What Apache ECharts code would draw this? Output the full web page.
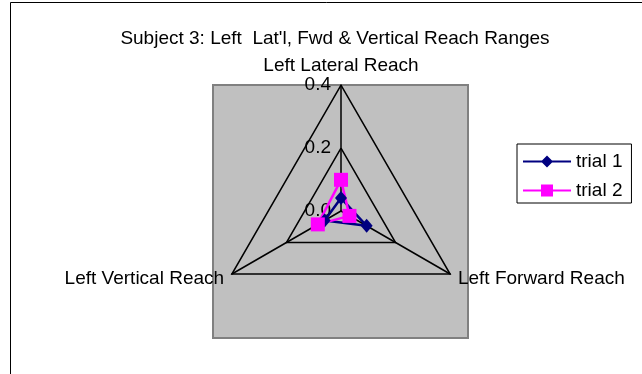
<!DOCTYPE html>
<html>
<head>
<meta charset="utf-8">
<script src="https://cdn.jsdelivr.net/npm/echarts@6/dist/echarts.min.js"></script>
<style>
  html, body { margin: 0; padding: 0; background: #fff; }
  #chart { width: 642px; height: 374px; }
</style>
</head>
<body>
<div id="chart"></div>
<script>
const titleText = "Subject 3: Left  Lat'l, Fwd & Vertical Reach Ranges"
// radar goes counter-clockwise, so Vertical comes before Forward here
const indicators = ['Left Lateral Reach', 'Left Vertical Reach', 'Left Forward Reach']
const axisMax = 0.4
const trial1 = [0.041, 0.06, 0.094]
const trial2 = [0.099, 0.085, 0.031]
const seriesNames = ['trial 1', 'trial 2']

const FONT = 'Liberation Sans, Arial, sans-serif'
const chart = echarts.init(document.getElementById('chart'))

chart.setOption({
  animation: false,
  title: {
    text: titleText,
    left: 330,
    top: 24,
    textAlign: 'center',
    textStyle: { fontFamily: FONT, fontSize: 19, fontWeight: 'normal', color: '#000' },
  },
  graphic: [
    {
      type: 'rect', z: -20, silent: true,
      shape: { x: 10.5, y: 2.5, width: 700, height: 500 },
      style: { fill: '#fff', stroke: '#000', lineWidth: 1 },
    },
    {
      type: 'rect', z: -10, silent: true,
      shape: { x: 213, y: 85, width: 255, height: 253 },
      style: { fill: '#c0c0c0', stroke: '#808080', lineWidth: 2 },
    },
  ],
  legend: {
    orient: 'vertical',
    left: 517,
    top: 144,
    padding: [8, 9, 3, 6],
    itemGap: 10,
    itemWidth: 48,
    itemHeight: 12,
    backgroundColor: '#fff',
    borderColor: '#000',
    borderWidth: 1,
    textStyle: { fontFamily: FONT, fontSize: 19, color: '#000' },
    data: [
      { name: seriesNames[0], icon: 'path://M0,5 L48,5 L48,7 L0,7 Z M24,0 L30,6 L24,12 L18,6 Z' },
      { name: seriesNames[1], icon: 'path://M0,5 L48,5 L48,7 L0,7 Z M18,0 L30,0 L30,12 L18,12 Z' },
    ],
  },
  radar: {
    center: [341, 211],
    radius: 126,
    startAngle: 90,
    shape: 'polygon',
    splitNumber: 2,
    nameGap: 9,
    axisName: { color: '#000', fontFamily: FONT, fontSize: 19 },
    splitArea: { show: false },
    splitLine: { lineStyle: { color: '#000', width: 1.5 } },
    axisLine: { lineStyle: { color: '#000', width: 1.5 } },
    axisTick: { show: false },
    axisLabel: {
      show: true,
      margin: 10,
      color: '#000',
      fontFamily: FONT,
      fontSize: 19,
      formatter: v => v.toFixed(1),
    },
    indicator: indicators.map((name, i) => ({
      name,
      min: 0,
      max: axisMax,
      axisLabel: { show: i === 0 },
    })),
  },
  series: [
    {
      type: 'radar',
      data: [
        {
          name: seriesNames[0],
          value: trial1,
          symbol: 'diamond',
          symbolSize: [12, 14],
          itemStyle: { color: '#000080' },
          lineStyle: { color: '#000080', width: 2.5 },
        },
        {
          name: seriesNames[1],
          value: trial2,
          symbol: 'rect',
          symbolSize: 14,
          itemStyle: { color: '#ff00ff' },
          lineStyle: { color: '#ff00ff', width: 2.5 },
        },
      ],
    },
  ],
})
</script>
</body>
</html>
